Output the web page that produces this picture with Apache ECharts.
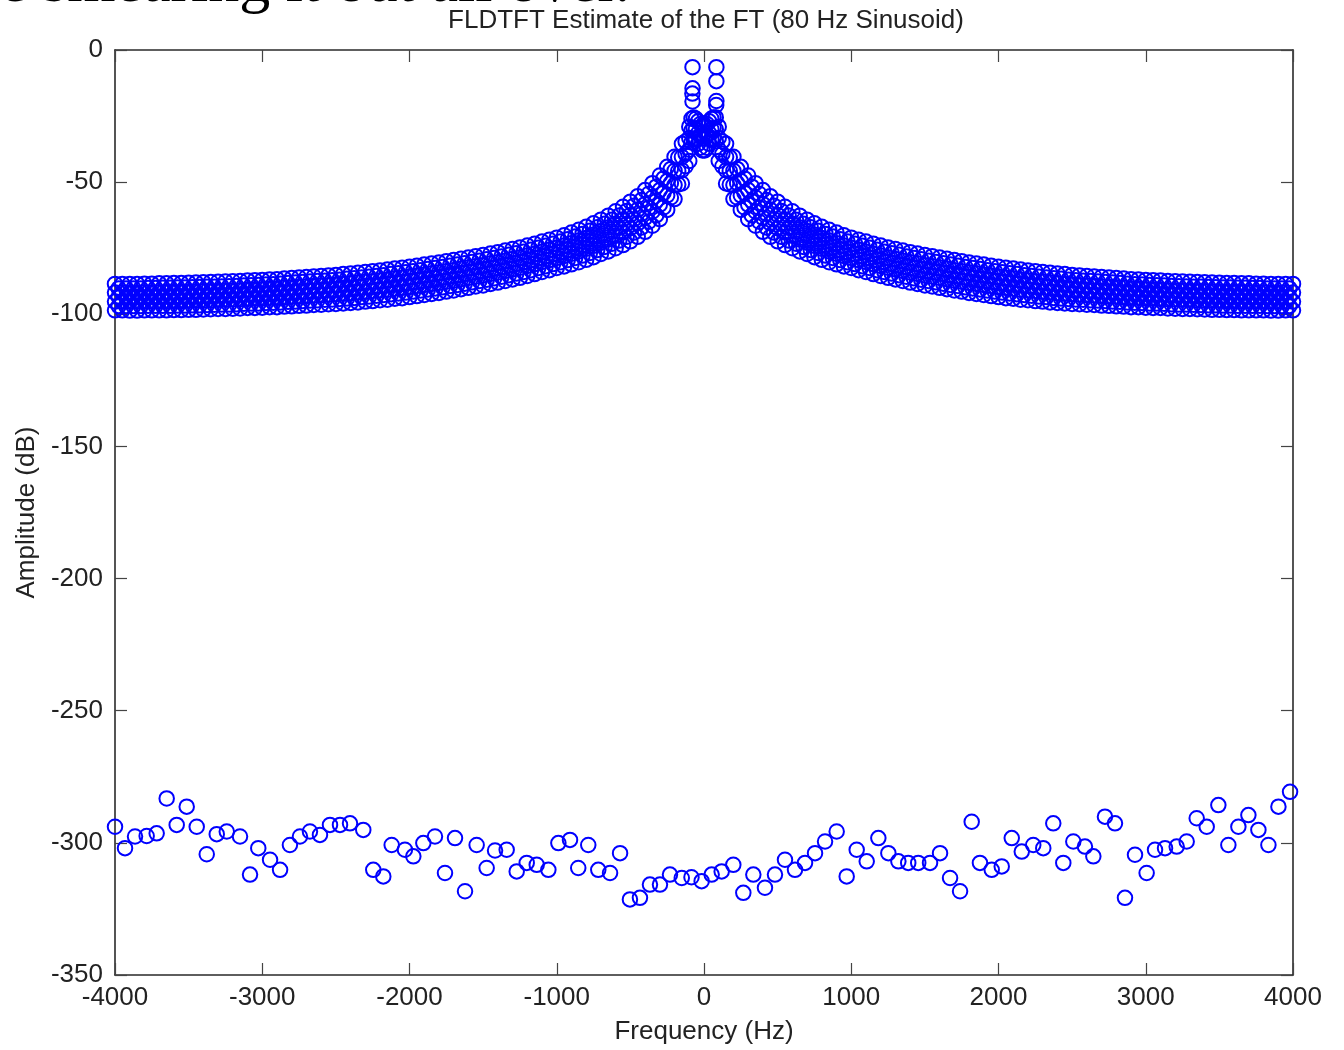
<!DOCTYPE html>
<html>
<head>
<meta charset="utf-8">
<script src="https://cdn.jsdelivr.net/npm/echarts@6/dist/echarts.min.js"></script>
<style>
html,body{margin:0;padding:0;background:#fff;}
#chart{width:1344px;height:1050px;}
</style>
</head>
<body>
<div id="chart"></div>
<script>
// ---------- text ----------
const pageText = 'e smearing it out all over.';
const chartTitle = 'FLDTFT Estimate of the FT (80 Hz Sinusoid)';
const xName = 'Frequency (Hz)';
const yName = 'Amplitude (dB)';

// ---------- axes ----------
const xMin = -4000, xMax = 4000, xStep = 1000;
const yMin = -350, yMax = 0, yStep = 50;

// ---------- leakage band ----------
// The band is drawn as seven rows of points; the two halves read the same,
// so each row is listed once by |f| and plotted on both sides.
// grid A: 100, 150, ... 4000 Hz   grid B: 125, 175, ... 3975 Hz
const gridAPos = [
100,150,200,250, 300,350,400,450, 500,550,600,650, 700,750,800,850,
900,950,1000,1050, 1100,1150,1200,1250, 1300,1350,1400,1450, 1500,1550,1600,1650,
1700,1750,1800,1850, 1900,1950,2000,2050, 2100,2150,2200,2250, 2300,2350,2400,2450,
2500,2550,2600,2650, 2700,2750,2800,2850, 2900,2950,3000,3050, 3100,3150,3200,3250,
3300,3350,3400,3450, 3500,3550,3600,3650, 3700,3750,3800,3850, 3900,3950,4000];
const gridANeg = [
-100,-150,-200,-250, -300,-350,-400,-450, -500,-550,-600,-650, -700,-750,-800,-850,
-900,-950,-1000,-1050, -1100,-1150,-1200,-1250, -1300,-1350,-1400,-1450, -1500,-1550,-1600,-1650,
-1700,-1750,-1800,-1850, -1900,-1950,-2000,-2050, -2100,-2150,-2200,-2250, -2300,-2350,-2400,-2450,
-2500,-2550,-2600,-2650, -2700,-2750,-2800,-2850, -2900,-2950,-3000,-3050, -3100,-3150,-3200,-3250,
-3300,-3350,-3400,-3450, -3500,-3550,-3600,-3650, -3700,-3750,-3800,-3850, -3900,-3950,-4000];
const gridBPos = [
125,175,225,275, 325,375,425,475, 525,575,625,675, 725,775,825,875,
925,975,1025,1075, 1125,1175,1225,1275, 1325,1375,1425,1475, 1525,1575,1625,1675,
1725,1775,1825,1875, 1925,1975,2025,2075, 2125,2175,2225,2275, 2325,2375,2425,2475,
2525,2575,2625,2675, 2725,2775,2825,2875, 2925,2975,3025,3075, 3125,3175,3225,3275,
3325,3375,3425,3475, 3525,3575,3625,3675, 3725,3775,3825,3875, 3925,3975];
const gridBNeg = [
-125,-175,-225,-275, -325,-375,-425,-475, -525,-575,-625,-675, -725,-775,-825,-875,
-925,-975,-1025,-1075, -1125,-1175,-1225,-1275, -1325,-1375,-1425,-1475, -1525,-1575,-1625,-1675,
-1725,-1775,-1825,-1875, -1925,-1975,-2025,-2075, -2125,-2175,-2225,-2275, -2325,-2375,-2425,-2475,
-2525,-2575,-2625,-2675, -2725,-2775,-2825,-2875, -2925,-2975,-3025,-3075, -3125,-3175,-3225,-3275,
-3325,-3375,-3425,-3475, -3525,-3575,-3625,-3675, -3725,-3775,-3825,-3875, -3925,-3975];

// rows on grid A (top edge, 1/3, 2/3, bottom edge)
const row0 = [
-29.0,-35.5,-40.4,-44.2, -47.5,-50.4,-53.0,-55.3, -57.4,-59.3,-61.0,-62.7, -64.2,-65.6,-66.9,-68.0,
-69.1,-70.1,-71.0,-71.8, -72.5,-73.3,-74.0,-74.7, -75.3,-75.9,-76.5,-77.0, -77.6,-78.0,-78.5,-79.0,
-79.5,-79.9,-80.4,-80.8, -81.2,-81.6,-82.0,-82.4, -82.7,-83.1,-83.4,-83.7, -84.0,-84.3,-84.6,-84.8,
-85.1,-85.3,-85.5,-85.7, -85.9,-86.1,-86.3,-86.5, -86.7,-86.8,-87.0,-87.1, -87.2,-87.4,-87.5,-87.6,
-87.7,-87.8,-87.9,-88.0, -88.1,-88.2,-88.2,-88.3, -88.3,-88.4,-88.4,-88.5, -88.5,-88.5,-88.5];
const row2 = [
-33.3,-40.5,-45.7,-49.6, -53.0,-55.8,-58.3,-60.4, -62.4,-64.1,-65.7,-67.2, -68.5,-69.9,-71.1,-72.1,
-73.1,-74.0,-74.8,-75.6, -76.3,-77.1,-77.8,-78.5, -79.1,-79.7,-80.3,-80.8, -81.4,-81.8,-82.3,-82.8,
-83.3,-83.7,-84.2,-84.6, -85.0,-85.4,-85.8,-86.2, -86.5,-86.9,-87.2,-87.5, -87.7,-88.0,-88.3,-88.5,
-88.8,-89.0,-89.1,-89.3, -89.5,-89.7,-89.9,-90.0, -90.2,-90.3,-90.5,-90.6, -90.7,-90.9,-91.0,-91.1,
-91.2,-91.3,-91.3,-91.4, -91.5,-91.6,-91.6,-91.7, -91.7,-91.8,-91.8,-91.9, -91.9,-91.8,-91.8];
const row4 = [
-37.7,-45.5,-51.1,-55.0, -58.5,-61.1,-63.5,-65.6, -67.4,-69.0,-70.3,-71.7, -72.9,-74.1,-75.2,-76.2,
-77.1,-77.9,-78.7,-79.5, -80.2,-81.0,-81.7,-82.4, -83.0,-83.6,-84.2,-84.7, -85.3,-85.7,-86.2,-86.7,
-87.2,-87.6,-88.1,-88.5, -88.9,-89.3,-89.7,-90.0, -90.3,-90.7,-90.9,-91.2, -91.5,-91.7,-92.0,-92.2,
-92.4,-92.6,-92.8,-92.9, -93.1,-93.3,-93.4,-93.6, -93.8,-93.8,-94.0,-94.1, -94.2,-94.3,-94.4,-94.5,
-94.6,-94.7,-94.8,-94.9, -94.9,-95.0,-95.0,-95.1, -95.1,-95.1,-95.1,-95.2, -95.2,-95.2,-95.2];
const row6 = [
-42.0,-50.5,-56.4,-60.5, -64.0,-66.5,-68.8,-70.7, -72.4,-73.8,-75.0,-76.2, -77.2,-78.4,-79.4,-80.3,
-81.1,-81.9,-82.5,-83.3, -84.0,-84.8,-85.5,-86.2, -86.8,-87.4,-88.0,-88.5, -89.1,-89.5,-90.0,-90.5,
-91.0,-91.4,-91.9,-92.3, -92.7,-93.1,-93.5,-93.9, -94.1,-94.5,-94.7,-95.0, -95.2,-95.5,-95.7,-95.9,
-96.1,-96.2,-96.4,-96.5, -96.7,-96.8,-97.0,-97.1, -97.3,-97.3,-97.5,-97.6, -97.6,-97.8,-97.9,-98.0,
-98.0,-98.1,-98.2,-98.3, -98.3,-98.4,-98.4,-98.5, -98.5,-98.5,-98.5,-98.6, -98.6,-98.5,-98.5];
// rows on grid B (between the rows above)
const row1 = [
-34.6,-40.6,-45.0,-48.6, -51.7,-54.4,-56.8,-58.9, -60.9,-62.6,-64.2,-65.7, -67.1,-68.4,-69.6,-70.6,
-71.6,-72.5,-73.3,-74.1, -74.8,-75.6,-76.3,-76.9, -77.5,-78.1,-78.7,-79.2, -79.7,-80.2,-80.7,-81.2,
-81.6,-82.1,-82.5,-82.9, -83.3,-83.7,-84.1,-84.5, -84.8,-85.2,-85.5,-85.8, -86.1,-86.4,-86.6,-86.9,
-87.1,-87.3,-87.4,-87.6, -87.8,-88.0,-88.2,-88.4, -88.6,-88.7,-88.9,-89.0, -89.1,-89.3,-89.4,-89.5,
-89.6,-89.6,-89.7,-89.8, -89.9,-89.9,-90.0,-90.0, -90.1,-90.1,-90.2,-90.2, -90.2,-90.2];
const row3 = [
-39.3,-45.8,-50.4,-54.1, -57.2,-59.7,-62.0,-64.0, -65.8,-67.3,-68.8,-70.1, -71.4,-72.6,-73.7,-74.7,
-75.6,-76.4,-77.2,-78.0, -78.7,-79.5,-80.2,-80.8, -81.4,-82.0,-82.6,-83.1, -83.6,-84.1,-84.6,-85.1,
-85.5,-86.0,-86.4,-86.8, -87.2,-87.6,-88.0,-88.3, -88.6,-89.0,-89.3,-89.5, -89.8,-90.1,-90.3,-90.5,
-90.7,-90.9,-91.1,-91.2, -91.4,-91.6,-91.8,-91.9, -92.1,-92.2,-92.4,-92.4, -92.5,-92.7,-92.8,-92.9,
-93.0,-93.1,-93.2,-93.2, -93.3,-93.3,-93.4,-93.4, -93.5,-93.5,-93.6,-93.6, -93.6,-93.5];
const row5 = [
-44.0,-50.9,-55.8,-59.6, -62.6,-65.0,-67.2,-69.1, -70.7,-72.1,-73.3,-74.5, -75.7,-76.8,-77.8,-78.7,
-79.5,-80.3,-81.0,-81.8, -82.5,-83.3,-84.0,-84.6, -85.2,-85.8,-86.4,-86.9, -87.4,-87.9,-88.4,-88.9,
-89.3,-89.8,-90.2,-90.6, -91.0,-91.4,-91.8,-92.1, -92.4,-92.7,-93.0,-93.3, -93.5,-93.8,-94.0,-94.2,
-94.4,-94.5,-94.7,-94.8, -95.0,-95.2,-95.3,-95.5, -95.6,-95.7,-95.9,-95.9, -96.0,-96.2,-96.3,-96.3,
-96.4,-96.5,-96.6,-96.6, -96.7,-96.7,-96.8,-96.8, -96.8,-96.8,-96.9,-96.9, -96.9,-96.9];

// ---------- centre cluster between the two peaks ----------
const centerFreq = [
-85,-85,-85,-70,-70,-70,-55,-55,-55,-40,-40,-40,-25,-25,-25,-10,-10,-10,
5,5,5,20,20,20,35,35,35,50,50,50,65,65,65,80,80,80];
const centerDb = [
-26.0,-30.5,-35.0,-25.5,-29.5,-33.5,-26.0,-30.0,-34.0,-27.0,-31.5,-35.5,-28.0,-32.5,-37.0,-28.5,-33.5,-38.0,
-28.5,-33.5,-38.0,-28.0,-32.5,-37.0,-27.0,-31.5,-35.5,-26.0,-30.0,-34.0,-25.5,-29.5,-33.5,-25.5,-30.0,-34.5];

// ---------- peaks at about +/-80 Hz ----------
const peakFreq = [-78,-78,-79,-78,84,84,84,83];
const peakDb = [-6.5,-14.5,-16.5,-19.5,-6.5,-11.8,-19.3,-20.8];

// ---------- numerical-noise floor near -300 dB ----------
const noiseFreq = [
-4000,-3932,-3864,-3785,-3717,-3649,-3581,-3513,-3445,-3377,
-3309,-3241,-3151,-3083,-3027,-2947,-2879,-2812,-2744,-2676,
-2608,-2540,-2472,-2404,-2314,-2246,-2178,-2121,-2031,-1974,
-1906,-1827,-1759,-1691,-1623,-1544,-1476,-1419,-1340,-1272,
-1204,-1136,-1057,-989,-910,-854,-786,-718,-638,-570,
-503,-435,-367,-299,-231,-151,-85,-16,52,120,
199,267,335,414,482,550,618,686,754,822,
901,969,1037,1105,1184,1252,1320,1387,1455,1535,
1603,1671,1739,1818,1874,1954,2022,2090,2158,2236,
2304,2372,2440,2508,2587,2644,2723,2791,2859,2927,
3006,3063,3131,3210,3278,3346,3414,3493,3561,3629,
3697,3765,3833,3901,3980];
const noiseDb = [
-293.9,-302.0,-297.6,-297.4,-296.4,-283.2,-293.2,-286.3,-293.9,-304.3,
-296.7,-295.7,-297.6,-312.0,-302.0,-306.4,-310.2,-300.8,-297.6,-295.7,
-297.0,-293.2,-293.2,-292.6,-295.1,-310.2,-312.7,-300.8,-302.6,-305.1,
-300.1,-297.6,-311.4,-298.2,-318.3,-300.8,-309.5,-302.9,-302.6,-310.8,
-307.6,-308.3,-310.2,-300.1,-298.9,-309.5,-300.8,-310.2,-311.4,-303.9,
-321.4,-320.8,-315.8,-315.8,-312.0,-313.3,-313.0,-314.5,-312.0,-310.8,
-308.3,-318.9,-312.0,-317.0,-312.0,-306.4,-310.2,-307.6,-303.9,-299.5,
-295.7,-312.7,-302.6,-307.0,-298.2,-303.9,-307.0,-307.6,-307.6,-307.6,
-303.9,-313.3,-318.3,-292.0,-307.6,-310.2,-308.9,-298.2,-303.3,-300.8,
-302.0,-292.6,-307.6,-299.5,-301.4,-305.1,-290.1,-292.6,-320.8,-304.5,
-311.4,-302.6,-302.0,-301.4,-299.5,-290.7,-293.9,-285.7,-300.8,-293.9,
-289.5,-295.1,-300.8,-286.3,-280.7];

// ---------- build ----------
const pairs = (xs, ys) => xs.map((x, i) => [x, ys[i]]);
const FONT = "'Liberation Sans', Arial, Helvetica, sans-serif";
const TXT = '#222';
const AX = '#2a2a2a';
const markerStyle = {
  color: 'rgba(0,0,0,0)',
  borderColor: '#0000ff',
  borderWidth: 2.0,
  opacity: 1
};
function scatter(name, data) {
  return {
    name, type: 'scatter', data,
    symbol: 'circle', symbolSize: 14.5,
    itemStyle: markerStyle,
    emphasis: { disabled: true },
    clip: false, silent: true, large: false
  };
}
const series = [
  scatter('row0Neg', pairs(gridANeg, row0)), scatter('row0Pos', pairs(gridAPos, row0)),
  scatter('row1Neg', pairs(gridBNeg, row1)), scatter('row1Pos', pairs(gridBPos, row1)),
  scatter('row2Neg', pairs(gridANeg, row2)), scatter('row2Pos', pairs(gridAPos, row2)),
  scatter('row3Neg', pairs(gridBNeg, row3)), scatter('row3Pos', pairs(gridBPos, row3)),
  scatter('row4Neg', pairs(gridANeg, row4)), scatter('row4Pos', pairs(gridAPos, row4)),
  scatter('row5Neg', pairs(gridBNeg, row5)), scatter('row5Pos', pairs(gridBPos, row5)),
  scatter('row6Neg', pairs(gridANeg, row6)), scatter('row6Pos', pairs(gridAPos, row6)),
  scatter('center', pairs(centerFreq, centerDb)),
  scatter('peaks', pairs(peakFreq, peakDb)),
  scatter('noise', pairs(noiseFreq, noiseDb))
];

const axisLine = { show: true, onZero: false, lineStyle: { color: AX, width: 1.6 } };
const axisTick = { show: true, inside: true, length: 12, lineStyle: { color: '#444', width: 1.2 } };
const labelStyle = { fontSize: 26, color: TXT, fontFamily: FONT, formatter: (v) => String(v) };

const option = {
  animation: false,
  backgroundColor: '#ffffff',
  grid: { left: 115, right: 51, top: 50, bottom: 69, containLabel: false },
  xAxis: [
    {
      type: 'value', min: xMin, max: xMax, interval: xStep, position: 'bottom',
      axisLine, axisTick,
      axisLabel: Object.assign({ margin: 10 }, labelStyle),
      splitLine: { show: false },
      name: xName, nameLocation: 'middle', nameGap: 44,
      nameTextStyle: { fontSize: 26, color: TXT, fontFamily: FONT }
    },
    {
      type: 'value', min: xMin, max: xMax, interval: xStep, position: 'top',
      axisLine, axisTick, axisLabel: { show: false }, splitLine: { show: false }
    }
  ],
  yAxis: [
    {
      type: 'value', min: yMin, max: yMax, interval: yStep, position: 'left',
      axisLine, axisTick,
      axisLabel: Object.assign({ margin: 12 }, labelStyle),
      splitLine: { show: false },
      name: yName, nameLocation: 'middle', nameGap: 63, nameRotate: 90,
      nameTextStyle: { fontSize: 26, color: TXT, fontFamily: FONT }
    },
    {
      type: 'value', min: yMin, max: yMax, interval: yStep, position: 'right',
      axisLine, axisTick, axisLabel: { show: false }, splitLine: { show: false }
    }
  ],
  graphic: [
    {
      type: 'text', x: 0, y: -15, silent: true,
      style: { text: pageText, font: "62px 'Liberation Serif', 'Times New Roman', serif", fill: '#000', verticalAlign: 'middle', align: 'left' }
    },
    {
      type: 'text', x: 706, y: 21, silent: true,
      style: { text: chartTitle, font: "26px " + FONT, fill: TXT, verticalAlign: 'middle', align: 'center' }
    }
  ],
  series
};

const chart = echarts.init(document.getElementById('chart'), null, { renderer: 'canvas' });
chart.setOption(option);
</script>
</body>
</html>
